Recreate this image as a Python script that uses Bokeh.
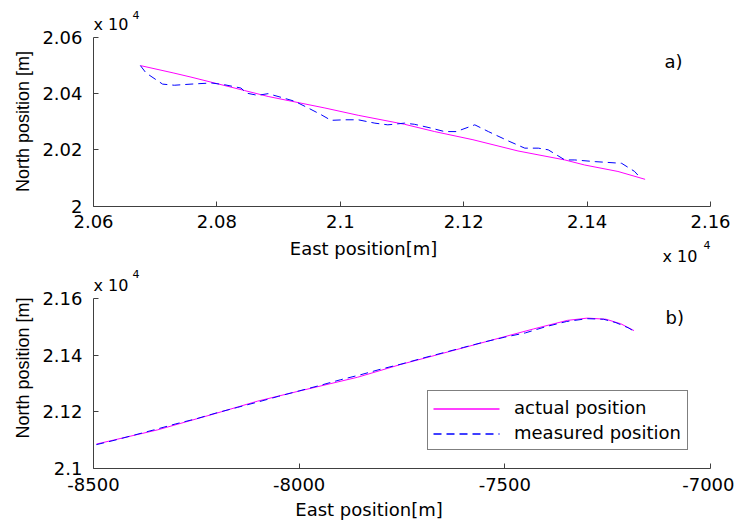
import math
from bokeh.plotting import figure
from bokeh.models import (Range1d, FixedTicker, CustomJSTickFormatter, Label, Legend,
                          LegendItem, Arrow)
from bokeh.layouts import column
from bokeh.embed import file_html
from bokeh.resources import INLINE

# ---------------- data: panel a) ----------------
a_actual_east = [20676, 20729, 20758, 20845, 20883, 20975, 21029, 21104, 21153,
                 21215, 21288, 21364, 21396, 21450, 21494]
a_actual_north = [20500, 20474, 20459, 20411, 20390, 20349, 20323, 20291, 20265,
                  20236, 20196, 20164, 20146, 20123, 20095]
a_meas_east = [20676, 20685, 20712, 20731, 20758, 20791, 20812, 20839, 20848, 20866,
               20883, 20904, 20926, 20948, 20969, 20985, 21007, 21029, 21056, 21077,
               21104, 21120, 21148, 21169, 21188, 21218, 21240, 21272, 21299, 21321,
               21337, 21364, 21380, 21413, 21456, 21477, 21486]
a_meas_north = [20500, 20474, 20434, 20430, 20434, 20438, 20432, 20420, 20402, 20394,
                20400, 20387, 20373, 20349, 20325, 20305, 20307, 20307, 20295, 20289,
                20295, 20291, 20277, 20265, 20265, 20289, 20265, 20232, 20206, 20206,
                20200, 20164, 20164, 20158, 20152, 20123, 20101]

# ---------------- data: panel b) ----------------
b_actual_east = [-8493, -8344, -8207, -8101, -8004, -7858, -7753, -7672, -7510,
                 -7430, -7348, -7299, -7254, -7218, -7186]
b_actual_north = [21087, 21137, 21193, 21238, 21272, 21322, 21367, 21398, 21461,
                  21492, 21522, 21530, 21526, 21510, 21486]
b_meas_east = [-8493, -8450, -8400, -8350, -8300, -8250, -8200, -8150, -8100, -8050,
               -8000, -7950, -7900, -7850, -7800, -7750, -7700, -7650, -7600, -7550,
               -7500, -7450, -7400, -7350, -7300, -7260, -7230, -7200, -7186]
b_meas_north = [21085, 21100, 21119, 21138, 21158, 21176, 21197, 21216, 21235, 21255,
                21274, 21293, 21313, 21331, 21351, 21369, 21389, 21408, 21427, 21446,
                21463, 21478, 21500, 21518, 21528, 21526, 21514, 21496, 21484]

# ---------------- ticks ----------------
a_xticks = [20600, 20800, 21000, 21200, 21400, 21600]
a_xtick_labels = ["2.06", "2.08", "2.1", "2.12", "2.14", "2.16"]
a_yticks = [20000, 20200, 20400, 20600]
a_ytick_labels = ["2", "2.02", "2.04", "2.06"]
b_xticks = [-8500, -8000, -7500, -7000]
b_xtick_labels = ["-8500", "-8000", "-7500", "-7000"]
b_yticks = [21000, 21200, 21400, 21600]
b_ytick_labels = ["2.1", "2.12", "2.14", "2.16"]

series_names = ["actual position", "measured position"]
x_title = "East position[m]"
y_title = "North position [m]"

MAGENTA = "#ff00ff"
BLUE = "#0000ff"
AXIS = "#404040"
HFONT = "DejaVu Sans"
VFONT = "Liberation Sans"
W = 734
BASE_FIX = 0.33   # em; Bokeh places alphabetic baseline a bit low


def fmt(vals, labs):
    return CustomJSTickFormatter(
        args=dict(vals=vals, labs=labs),
        code="const i = vals.indexOf(tick); return i >= 0 ? labs[i] : '';")


def lin(va, pa, vb, pb):
    s = (vb - va) / (pb - pa)
    return lambda px: va + (px - pa) * s


def make_fig(h, xmap, ymap, xt, xl, yt, yl):
    p = figure(x_range=Range1d(xmap(0), xmap(W)), y_range=Range1d(ymap(h), ymap(0)),
               width=W, height=h, title=None,
               output_backend="svg", toolbar_location=None,
               min_border_left=0, min_border_right=0,
               min_border_top=0, min_border_bottom=0)
    p.xgrid.visible = False
    p.ygrid.visible = False
    p.outline_line_color = None
    p.background_fill_color = "white"
    p.border_fill_color = "white"
    p.xaxis.ticker = FixedTicker(ticks=xt)
    p.xaxis.formatter = fmt(xt, xl)
    p.xaxis.bounds = (xt[0], xt[-1])
    p.xaxis.fixed_location = yt[0]
    p.yaxis.ticker = FixedTicker(ticks=yt)
    p.yaxis.formatter = fmt(yt, yl)
    p.yaxis.bounds = (yt[0], yt[-1])
    p.yaxis.fixed_location = xt[0]
    for ax in (p.xaxis[0], p.yaxis[0]):
        ax.axis_line_color = AXIS
        ax.axis_line_width = 1
        ax.major_tick_line_color = AXIS
        ax.major_tick_in = 5
        ax.major_tick_out = 0
        ax.minor_tick_in = 0
        ax.minor_tick_out = 0
        ax.major_label_text_font = HFONT
        ax.major_label_text_font_size = "18px"
        ax.major_label_text_color = "black"
    p.xaxis.major_label_standoff = 9
    p.yaxis.major_label_standoff = 11
    return p


def add_text(p, x, y, text, size=18, font=HFONT, align="left", rotated=False):
    fix = BASE_FIX * size
    if rotated:
        x, angle = x - fix, math.pi / 2
    else:
        y, angle = y + fix, 0.0
    p.add_layout(Label(x=x, y=y, x_units="screen", y_units="screen", text=text,
                       text_font=font, text_font_size=f"{size}px", text_color="black",
                       text_align=align, text_baseline="alphabetic", angle=angle))


# ---------------- panel a ----------------
H1 = 266
xa = lin(a_xticks[0], 93, a_xticks[-1], 710)
ya = lin(a_yticks[-1], 37, a_yticks[0], 205.5)
p1 = make_fig(H1, xa, ya, a_xticks, a_xtick_labels, a_yticks, a_ytick_labels)
p1.line(a_actual_east, a_actual_north, line_color=MAGENTA, line_width=1)
p1.line(a_meas_east, a_meas_north, line_color=BLUE, line_width=1, line_dash="8 5")
add_text(p1, 93, 236.7, "x 10", 16)
add_text(p1, 132, 248, "4", 11)
add_text(p1, 662, 4.5, "x 10", 16)
add_text(p1, 703, 18, "4", 11)
add_text(p1, 664, 199, "a)")
add_text(p1, 363, 12, x_title, align="center")
add_text(p1, 28.5, 145, y_title, font=VFONT, align="center", rotated=True)

# ---------------- panel b ----------------
H2 = 256
xb = lin(b_xticks[0], 93, b_xticks[-1], 710)
yb = lin(b_yticks[-1], 31.7, b_yticks[0], 202.3)
p2 = make_fig(H2, xb, yb, b_xticks, b_xtick_labels, b_yticks, b_ytick_labels)
r1 = p2.line(b_actual_east, b_actual_north, line_color=MAGENTA, line_width=1)
r2 = p2.line(b_meas_east, b_meas_north, line_color=BLUE, line_width=1, line_dash="8 5")
add_text(p2, 93, 232, "x 10", 16)
add_text(p2, 132, 245, "4", 11)
add_text(p2, 665, 199, "b)")
add_text(p2, 368.5, 7, x_title, align="center")
add_text(p2, 28.5, 154.5, y_title, font=VFONT, align="center", rotated=True)

# legend box (labels), with its line keys drawn as annotations in the glyph slots
LEG_X, LEG_Y, PAD, ROW_H, GAP, GLYPH_W, STANDOFF = 427, 72, 6, 21, 4, 66, 14
legend = Legend(items=[LegendItem(label=series_names[0], renderers=[]),
                       LegendItem(label=series_names[1], renderers=[])],
                location=(LEG_X, LEG_Y), margin=0, padding=PAD, spacing=GAP,
                glyph_width=GLYPH_W, glyph_height=16, label_height=ROW_H,
                label_standoff=STANDOFF,
                label_text_font=HFONT, label_text_font_size="18px",
                label_text_color="black",
                border_line_color="black", border_line_width=1.2,
                background_fill_color=None)
p2.add_layout(legend)

leg_top = H2 - LEG_Y - (2 * PAD + 2 * ROW_H + GAP)
key_x0, key_x1 = LEG_X + PAD, LEG_X + PAD + GLYPH_W
for i, renderer in enumerate([r1, r2]):
    cy = leg_top + PAD + ROW_H / 2 + i * (ROW_H + GAP)
    g = renderer.glyph
    p2.add_layout(Arrow(end=None, x_start=xb(key_x0), x_end=xb(key_x1),
                        y_start=yb(cy), y_end=yb(cy), level="overlay",
                        line_color=g.line_color, line_width=1.3,
                        line_dash=g.line_dash))

layout = column(p1, p2, spacing=0)
open("out.html", "w").write(file_html(layout, INLINE))
